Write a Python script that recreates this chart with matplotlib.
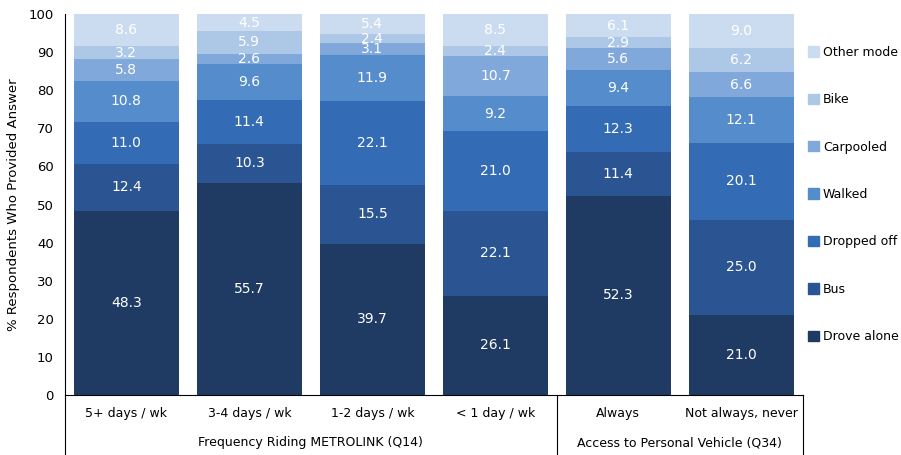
import numpy as np
import matplotlib.pyplot as plt
from matplotlib.patches import Patch

categories = ['5+ days / wk', '3-4 days / wk', '1-2 days / wk', '< 1 day / wk',
              'Always', 'Not always, never']
groups = ['Frequency Riding METROLINK (Q14)', 'Access to Personal Vehicle (Q34)']
group_sizes = [4, 2]

modes = ['Drove alone', 'Bus', 'Dropped off', 'Walked', 'Carpooled', 'Bike', 'Other mode']
drove_alone = [48.3, 55.7, 39.7, 26.1, 52.3, 21.0]
bus = [12.4, 10.3, 15.5, 22.1, 11.4, 25.0]
dropped_off = [11.0, 11.4, 22.1, 21.0, 12.3, 20.1]
walked = [10.8, 9.6, 11.9, 9.2, 9.4, 12.1]
carpooled = [5.8, 2.6, 3.1, 10.7, 5.6, 6.6]
bike = [3.2, 5.9, 2.4, 2.4, 2.9, 6.2]
other_mode = [8.6, 4.5, 5.4, 8.5, 6.1, 9.0]

series = [drove_alone, bus, dropped_off, walked, carpooled, bike, other_mode]
colors = ['#1F3A63', '#2A5592', '#336CB4', '#558CCC', '#80A8DA', '#ADC8E7', '#CCDCF0']

fig = plt.figure(figsize=(9.01, 4.55), dpi=100)
ax = fig.add_axes([0.072, 0.132, 0.819, 0.837])

x = np.arange(len(categories))
bottom = np.zeros(len(categories))
for vals, col in zip(series, colors):
    vals = np.array(vals)
    ax.bar(x, vals, width=0.85, bottom=bottom, color=col)
    for xi, b, v in zip(x, bottom, vals):
        ax.text(xi, b + v / 2, f'{v:.1f}', ha='center', va='center',
                color='white', fontsize=10)
    bottom = bottom + vals

ax.set_xlim(-0.5, 5.5)
ax.set_ylim(0, 100)
ax.set_yticks(np.arange(0, 101, 10))
ax.tick_params(axis='y', length=0, pad=8, labelsize=9.5)
ax.set_xticks(x)
ax.set_xticklabels(categories)
ax.tick_params(axis='x', length=0, pad=9, labelsize=9)
ax.set_ylabel('% Respondents Who Provided Answer', fontsize=9.5, labelpad=6)
for s in ['top', 'right']:
    ax.spines[s].set_visible(False)

# group separators and group labels under the axis
trans = ax.get_xaxis_transform()
start = -0.5
for name, n in zip(groups, group_sizes):
    end = start + n
    ax.text((start + end) / 2, -0.125, name, transform=trans, ha='center',
            va='center', fontsize=9)
    start = end
for xs in [-0.5, 3.5, 5.5]:
    ax.plot([xs, xs], [0, -0.16], transform=trans, color='black', lw=0.8,
            clip_on=False)

handles = [Patch(color=c, label=m) for m, c in zip(modes, colors)][::-1]
ax.legend(handles=handles, loc='upper left', bbox_to_anchor=(1.0, 0.93),
          frameon=False, fontsize=9, handlelength=0.9, handleheight=0.9,
          handletextpad=0.3, labelspacing=2.75, borderaxespad=0)

fig.savefig('out.png', dpi=100)
